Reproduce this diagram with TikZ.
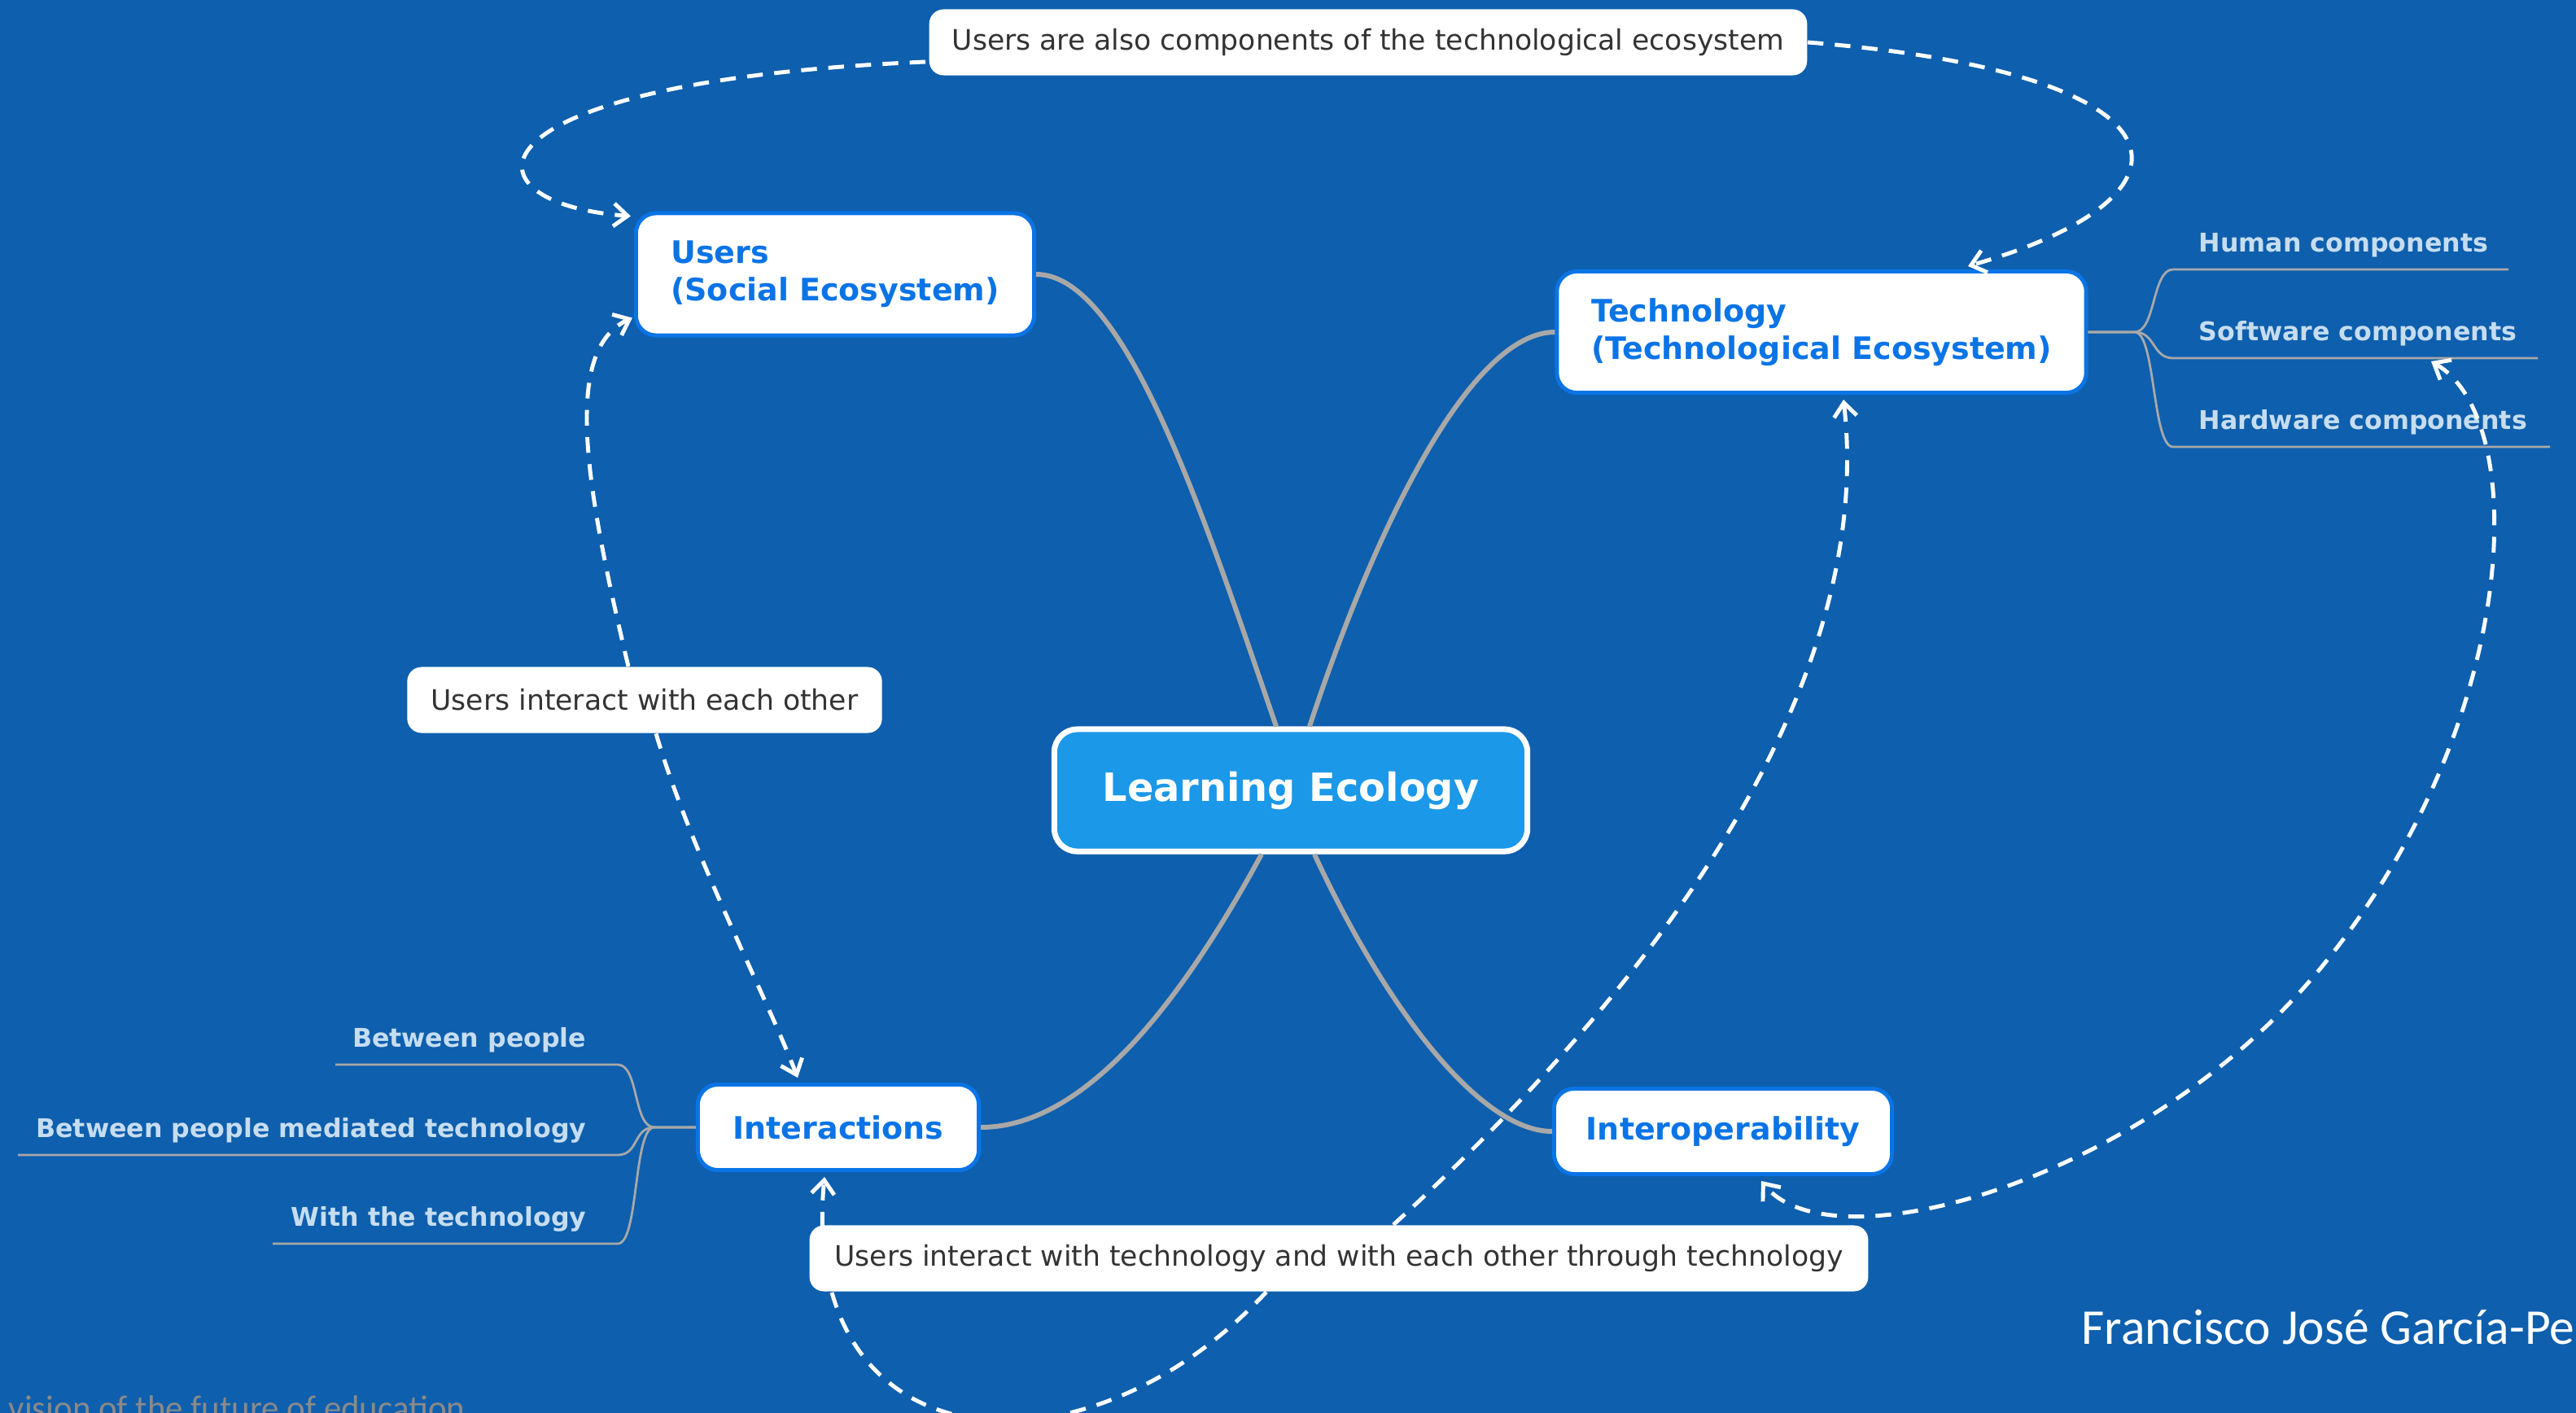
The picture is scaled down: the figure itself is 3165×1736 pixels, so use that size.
\documentclass[tikz,border=0pt]{standalone}
\usepackage{xcolor}
\usepackage{tikz}
\usetikzlibrary{arrows.meta,calc}
\usepackage{fontspec}
\setmainfont{DejaVu Sans}
\newfontfamily\footfont{Carlito}

\definecolor{bgblue}{HTML}{0E5FAD}
\definecolor{topicblue}{HTML}{0A74E6}
\definecolor{centreblue}{HTML}{1B98E8}
\definecolor{leafblue}{HTML}{C6DDF0}
\definecolor{notegray}{HTML}{333333}
\definecolor{linegray}{HTML}{A8A8A8}
\definecolor{footgray}{HTML}{8A8A8A}

\begin{document}
\begin{tikzpicture}[x=0.01cm,y=-0.01cm,
    >={Straight Barb[length=1.7mm,width=2.8mm]},
    topic/.style={draw=topicblue,line width=1.4pt,fill=white,rounded corners=7pt,
      text=topicblue,font=\fontsize{10.8}{13}\selectfont\bfseries,minimum height=1.05cm,inner sep=0pt},
    note/.style={fill=white,rounded corners=5pt,text=notegray,
      font=\fontsize{9.85}{11}\selectfont,minimum height=0.81cm,inner sep=0pt},
    leaf/.style={text=leafblue,font=\fontsize{9}{11}\selectfont\bfseries,inner sep=0pt},
    limb/.style={linegray,line width=1.7pt},
    twig/.style={linegray,line width=0.8pt},
    link/.style={white,line width=1.4pt,dash pattern=on 5.5pt off 4pt}]
    \fill[bgblue] (0,0) rectangle (3165,1736);
    \useasboundingbox (0,0) rectangle (3165,1736);

    \node[draw=white,line width=2pt,fill=centreblue,rounded corners=8pt,minimum width=5.81cm,
      minimum height=1.5cm,text=white,font=\fontsize{13.6}{16}\selectfont\bfseries] (le) at (1586,971) {Learning Ecology};
    \node[topic,minimum width=4.89cm,minimum height=1.5cm,align=left] (users) at (1026,337) {Users\\(Social Ecosystem)};
    \node[topic,minimum width=6.5cm,minimum height=1.49cm,align=left] (tech) at (2238,408) {Technology\\(Technological Ecosystem)};
    \node[topic,minimum width=3.45cm] (inter) at (1030,1385) {Interactions};
    \node[topic,minimum width=4.15cm] (interop) at (2117,1390) {Interoperability};

    \node[note,minimum width=10.78cm] (note1) at (1681,52) {Users are also components of the technological ecosystem};
    \node[note,minimum width=5.83cm] (note2) at (792,860) {Users interact with each other};
    \node[note,minimum width=13cm] (note3) at (1645,1546) {Users interact with technology and with each other through technology};

    \draw[limb] (users.east) .. controls +(110,0) and +(-88,-256) .. ($(le.north)+(-18,0)$);
    \draw[limb] (tech.west) .. controls +(-103,0) and +(81,-246) .. ($(le.north)+(23,0)$);
    \draw[limb] ($(le.south)+(-36,0)$) .. controls +(-100,184) and +(127,0) .. (inter.east);
    \draw[limb] ($(le.south)+(29,0)$) .. controls +(85,184) and +(-90,0) .. (interop.west);

    \foreach \nm/\txt/\ly/\lend in {hum/Human components/331/3082,sw/Software components/440/3118,hw/Hardware components/549/3133} {
      \draw[twig] (tech.east) -- ++(57,0) .. controls +(26,0) and (2644,\ly) .. (2670,\ly) -- (\lend,\ly);
      \node[leaf,anchor=base west] (\nm) at (2701,\ly-22) {\txt};
    }
    \foreach \nm/\txt/\ly/\lend in {bp/Between people/1308/412,bpm/Between people mediated technology/1419/22,wt/With the technology/1528/335} {
      \draw[twig] (inter.west) -- ++(-51,0) .. controls +(-26,0) and (785,\ly) .. (759,\ly) -- (\lend,\ly);
      \node[leaf,anchor=base east] (\nm) at (721,\ly-22) {\txt};
    }

    \draw[link,->] ($(note1.west)+(-4,24)$) .. controls (560,100) and (560,250) .. ($(users.north west)+(-4,6)$);
    \draw[link,->] (note1.east) .. controls (2700,90) and (2720,240) .. ($(tech.north)+(180,-4)$);
    \draw[link,->] ($(note2.north)+(-20,0)$) .. controls (720,600) and (690,430) .. ($(users.south west)+(-2,-24)$);
    \draw[link,->] ($(note2.south)+(14,0)$) .. controls (850,1050) and (940,1220) .. ($(inter.north)+(-50,-6)$);
    \draw[link,->] ($(note3.south west)+(562,0)$) .. controls (1330,1830) and (980,1800) .. ($(inter.south)+(-17,6)$);
    \draw[link,->] ($(note3.north west)+(718,0)$) .. controls (2100,1150) and (2300,800) .. ($(tech.south)+(27,6)$);
    \coordinate (swtip) at (2987,444);
    \draw[link,<->] (swtip) .. controls (3110,515) and (3095,880) .. (2866,1171)
      .. controls (2650,1450) and (2250,1560) .. ($(interop.south)+(47,6)$);

    \node[anchor=base west,inner sep=0pt,text=white,font=\footfont\fontsize{17.5}{20}\selectfont] (author) at (2557,1651) {Francisco José García-Pe};
    \node[anchor=base west,inner sep=0pt,text=footgray,font=\footfont\fontsize{12.2}{14}\selectfont] (vision) at (10,1744) {vision of the future of education};
\end{tikzpicture}
\end{document}
